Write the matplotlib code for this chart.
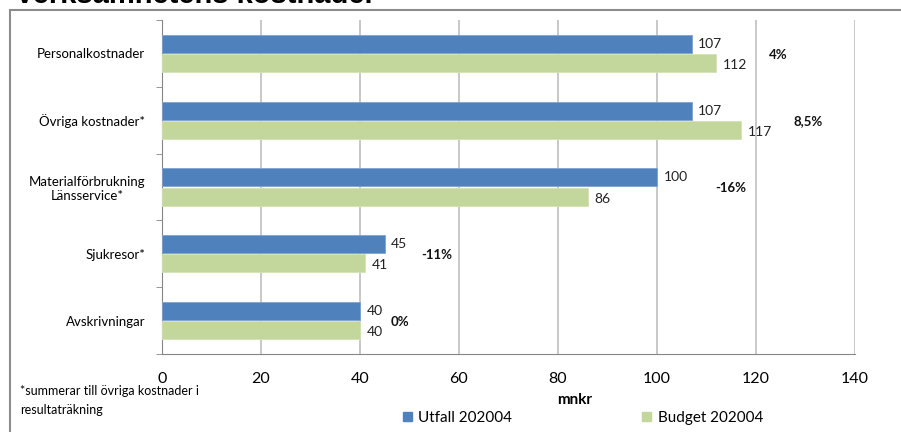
import matplotlib
matplotlib.use("Agg")
import matplotlib.pyplot as plt
from matplotlib.patches import Rectangle, Patch
import numpy as np

categories = ["Personalkostnader", "Övriga kostnader*", "Materialförbrukning\nLänsservice*", "Sjukresor*", "Avskrivningar"]
utfall = [107, 107, 100, 45, 40]
budget = [112, 117, 86, 41, 40]
pct_labels = ["4%", "8,5%", "-16%", "-11%", "0%"]
pct_x = [124.5, 130.5, 115.0, 55.5, 48.0]
xticks = [0, 20, 40, 60, 80, 100, 120, 140]

plt.rcParams['font.family'] = ['Lato', 'DejaVu Sans']

fig = plt.figure(figsize=(9.01, 4.32), dpi=100)
ax = fig.add_axes([162/901, 78/432, 693/901, 334/432])

blue = "#4F81BD"
green = "#C3D69B"
n = len(categories)
y = np.arange(n)
h = 0.27
off = 0.143
ax.barh(y - off, utfall, height=h, color=blue, edgecolor="#7FA3D0", linewidth=0.6, zorder=3)
ax.barh(y + off, budget, height=h, color=green, edgecolor="#D4E3B5", linewidth=0.6, zorder=3)

for i in range(n):
    ax.text(utfall[i] + 1.3, y[i] - off, str(utfall[i]), va="center", ha="left", fontsize=10, color="#222222")
    ax.text(budget[i] + 1.3, y[i] + off + 0.03, str(budget[i]), va="center", ha="left", fontsize=10, color="#222222")
    ax.text(pct_x[i], y[i] + 0.02, pct_labels[i], va="center", ha="center", fontsize=9.5, fontweight="bold", color="#111111")

ax.set_ylim(n - 0.5, -0.5)
ax.set_xlim(0, 140)
ax.set_xticks(xticks)
ax.set_xticklabels([str(v) for v in xticks], fontsize=11.5)
ax.set_yticks(y)
ax.set_yticklabels(categories, fontsize=9.5, ha="right", multialignment="center")
ax.set_yticks(np.arange(-0.5, n, 1.0), minor=True)
ax.tick_params(axis="y", which="major", length=0, pad=12)
ax.tick_params(axis="y", which="minor", length=4, color="#868686", direction="out")
ax.tick_params(axis="x", which="major", length=0, pad=13)
ax.grid(axis="x", color="#BFBFBF", linewidth=1.2, zorder=0)
for s in ["top", "right"]:
    ax.spines[s].set_visible(False)
ax.spines["left"].set_color("#868686")
ax.spines["bottom"].set_color("#868686")

fig.text(575/901, 1 - 400/432, "mnkr", ha="center", va="center", fontsize=11, fontweight="bold")
fig.text(20/901, 1 - 391/432, "*summerar till övriga kostnader i", ha="left", va="center", fontsize=9)
fig.text(20/901, 1 - 410/432, "resultaträkning", ha="left", va="center", fontsize=9)

handles = [Patch(color=blue, label="Utfall 202004"), Patch(color=green, label="Budget 202004")]
fig.legend(handles=handles, loc="center", bbox_to_anchor=(583/901, 1 - 418/432), ncol=2, frameon=False,
           fontsize=11, handlelength=0.6, handleheight=0.6, handletextpad=0.4, columnspacing=8.5)

fig.text(15/901, 1 - 3/432, "Verksamhetens kostnader", ha="left", va="baseline", fontsize=21,
         fontweight="bold", family=["Liberation Sans", "DejaVu Sans"])

fig.patches.append(Rectangle((10/901, -0.1), 1.1, 1 - 10/432 + 0.1, transform=fig.transFigure,
                             fill=False, edgecolor="#8C8C8C", linewidth=1.5))

fig.savefig("out.png", dpi=100)
